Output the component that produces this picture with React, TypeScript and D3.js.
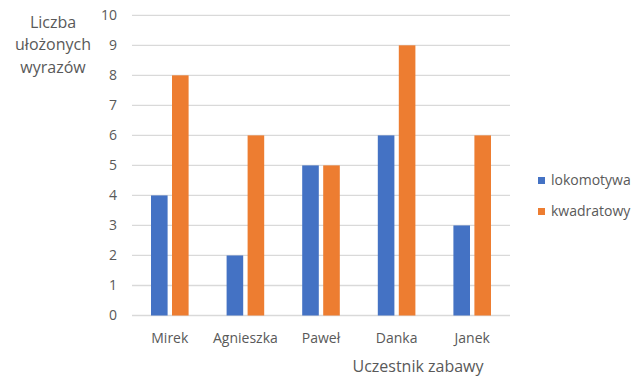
import React from "react";
import * as d3 from "d3";

const categories = ["Mirek", "Agnieszka", "Paweł", "Danka", "Janek"];
const seriesNames = ["lokomotywa", "kwadratowy"];
const lokomotywa = [4, 2, 5, 6, 3];
const kwadratowy = [8, 6, 5, 9, 6];
const yTicks = [0, 1, 2, 3, 4, 5, 6, 7, 8, 9, 10];
const colors = ["#4472C4", "#ED7D31"];
const yTitleLines = ["Liczba", "ułożonych", "wyrazów"];

export default function App() {
  const W = 640, H = 391;
  const left = 132, right = 510, top = 15.3, bottom = 315.5;
  const x = d3.scaleBand<string>().domain(categories).range([left, right]).paddingInner(0).paddingOuter(0);
  const y = d3.scaleLinear().domain([0, 10]).range([bottom, top]);
  const series = [lokomotywa, kwadratowy];
  const barW = 16.6;
  const gap = 4.4;
  const font = "'Open Sans', sans-serif";
  const textColor = "#595959";
  return (
    <svg width={W} height={H} style={{ position: "absolute", left: 0, top: 0, background: "#fff" }} fontFamily={font}>
      {yTicks.map((t) => (
        <g key={t}>
          <line x1={left} x2={right} y1={y(t)} y2={y(t)} stroke="#d9d9d9" strokeWidth={1.3} />
          <text x={117} y={y(t)} dy="0.35em" textAnchor="end" fontSize={14} fill={textColor}>{t}</text>
        </g>
      ))}
      {categories.map((c, i) => {
        const cx = (x(c) as number) + x.bandwidth() / 2;
        return (
          <g key={c}>
            {series.map((s, si) => {
              const bx = si === 0 ? cx - gap / 2 - barW : cx + gap / 2;
              return (
                <rect key={si} x={bx} y={y(s[i])} width={barW} height={y(0) - y(s[i])} fill={colors[si]} />
              );
            })}
            <text x={cx} y={343} textAnchor="middle" fontSize={14} fill={textColor}>{c}</text>
          </g>
        );
      })}
      <text x={418} y={372} textAnchor="middle" fontSize={16} fill={textColor}>Uczestnik zabawy</text>
      {yTitleLines.map((l, i) => (
        <text key={l} x={53} y={22 + i * 22.5} dy="0.35em" textAnchor="middle" fontSize={16} fill={textColor}>{l}</text>
      ))}
      {seriesNames.map((n, i) => (
        <g key={n}>
          <rect x={538} y={177 + i * 31} width={7} height={7} fill={colors[i]} />
          <text x={551} y={180.5 + i * 31} dy="0.35em" fontSize={14} fill={textColor}>{n}</text>
        </g>
      ))}
    </svg>
  );
}
